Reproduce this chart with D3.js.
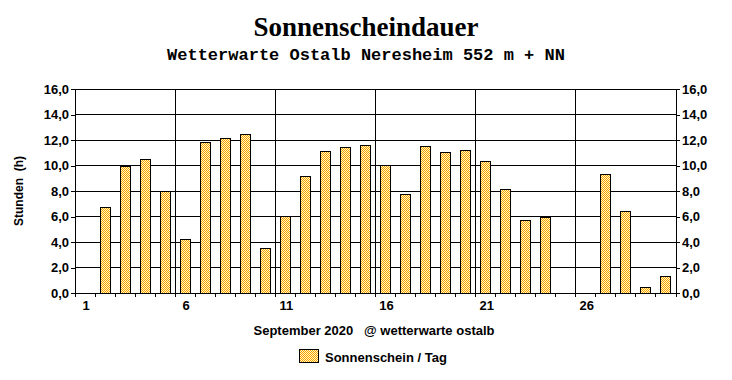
<!DOCTYPE html>
<html>
<head>
<meta charset="utf-8">
<script src="https://cdn.jsdelivr.net/npm/d3@7"></script>
<style>
  body { margin: 0; background: #fff; }
  svg text { font-family: "Liberation Sans", Arial, sans-serif; font-weight: bold; }
</style>
</head>
<body>
<div id="chart"></div>
<script>
// Sonnenscheindauer, September 2020 - hours of sunshine per day
const days = d3.range(1, 31);
const sunHours = [0, 6.7, 9.9, 10.5, 8.0, 4.2, 11.8, 12.1, 12.4, 3.5,
                  6.0, 9.1, 11.1, 11.4, 11.6, 10.0, 7.7, 11.5, 11.0, 11.2,
                  10.3, 8.1, 5.7, 5.9, 0, 0, 9.3, 6.4, 0.4, 1.3];
const yTicks = [0, 2, 4, 6, 8, 10, 12, 14, 16];
const xLabels = [1, 6, 11, 16, 21, 26];

const W = 732, H = 380;
const plotLeft = 75, plotRight = 676, plotTop = 89, plotBottom = 293;

const svg = d3.select("#chart").append("svg")
    .attr("width", W)
    .attr("height", H);

// checkered fill like the original
const defs = svg.append("defs");
const pat = defs.append("pattern")
    .attr("id", "dither")
    .attr("width", 2).attr("height", 2)
    .attr("patternUnits", "userSpaceOnUse");
pat.append("rect").attr("width", 2).attr("height", 2).attr("fill", "#ffffc0");
pat.append("rect").attr("width", 1).attr("height", 1).attr("fill", "#ff9c00");
pat.append("rect").attr("x", 1).attr("y", 1).attr("width", 1).attr("height", 1).attr("fill", "#ff9c00");

const x = d3.scaleBand()
    .domain(days)
    .range([plotLeft, plotRight])
    .paddingInner(0.5)
    .paddingOuter(0.25);

const y = d3.scaleLinear()
    .domain([0, 16])
    .range([plotBottom, plotTop]);

const half = (x.step() - x.bandwidth()) / 2;
function slotStart(d) { return x(d) - half; }

// titles
svg.append("text")
    .attr("x", 366).attr("y", 36)
    .attr("text-anchor", "middle")
    .style("font-family", "'Liberation Serif', 'Times New Roman', serif")
    .style("font-size", "27px")
    .text("Sonnenscheindauer");

svg.append("text")
    .attr("x", 366).attr("y", 60)
    .attr("text-anchor", "middle")
    .style("font-family", "'Liberation Mono', 'Courier New', monospace")
    .style("font-size", "17px")
    .text("Wetterwarte Ostalb Neresheim 552 m + NN");

const grid = svg.append("g")
    .attr("stroke", "#000")
    .attr("stroke-width", 1)
    .attr("shape-rendering", "crispEdges");

// horizontal grid
grid.selectAll(".hg")
    .data(yTicks)
    .join("line")
    .attr("x1", plotLeft).attr("x2", plotRight)
    .attr("y1", d => y(d)).attr("y2", d => y(d));

// vertical grid at the 5-day boundaries
grid.selectAll(".vg")
    .data([6, 11, 16, 21, 26])
    .join("line")
    .attr("x1", d => slotStart(d)).attr("x2", d => slotStart(d))
    .attr("y1", plotTop).attr("y2", plotBottom + 4);

// bars
svg.append("g")
    .selectAll("rect")
    .data(days.map((d, i) => ({ day: d, v: sunHours[i] })).filter(d => d.v > 0))
    .join("rect")
    .attr("x", d => x(d.day))
    .attr("y", d => y(d.v))
    .attr("width", x.bandwidth())
    .attr("height", d => y(0) - y(d.v))
    .attr("fill", "url(#dither)")
    .attr("stroke", "#000")
    .attr("stroke-width", 1)
    .attr("shape-rendering", "crispEdges");

// axes
const fmt = d => d.toFixed(1).replace(".", ",");

const yLeft = svg.append("g")
    .attr("transform", "translate(" + plotLeft + ",0)")
    .call(d3.axisLeft(y).tickValues(yTicks).tickFormat(fmt).tickSize(4).tickPadding(2));

const yRight = svg.append("g")
    .attr("transform", "translate(" + plotRight + ",0)")
    .call(d3.axisRight(y).tickValues(yTicks).tickFormat(fmt).tickSize(4).tickPadding(2));

[yLeft, yRight].forEach(function(g) {
    g.select(".domain").attr("d", "M0," + plotTop + "V" + (plotBottom + 4)).attr("stroke", "#000");
    g.selectAll("line").attr("stroke", "#000");
    g.selectAll("text").style("font-size", "13px").attr("fill", "#000");
    g.attr("shape-rendering", "crispEdges");
});

// bottom axis line with ticks at slot boundaries
svg.append("line")
    .attr("x1", plotLeft).attr("x2", plotRight)
    .attr("y1", plotBottom).attr("y2", plotBottom)
    .attr("stroke", "#000")
    .attr("shape-rendering", "crispEdges");

svg.append("g")
    .selectAll("line")
    .data(days.slice(1))
    .join("line")
    .attr("x1", d => slotStart(d)).attr("x2", d => slotStart(d))
    .attr("y1", plotBottom).attr("y2", plotBottom + 4)
    .attr("stroke", "#000")
    .attr("shape-rendering", "crispEdges");

svg.append("g")
    .selectAll("text")
    .data(xLabels)
    .join("text")
    .attr("x", d => x(d) + x.bandwidth() / 2 + 1)
    .attr("y", 310)
    .attr("text-anchor", "middle")
    .style("font-size", "13px")
    .text(d => d);

// axis titles
svg.append("text")
    .attr("transform", "translate(23,191) rotate(-90)")
    .attr("text-anchor", "middle")
    .style("font-size", "12px")
    .attr("xml:space", "preserve")
    .text("Stunden  (h)");

svg.append("text")
    .attr("x", 374).attr("y", 335)
    .attr("text-anchor", "middle")
    .style("font-size", "13px")
    .attr("xml:space", "preserve")
    .text("September 2020   @ wetterwarte ostalb");

// legend
svg.append("rect")
    .attr("x", 299.5).attr("y", 349.5)
    .attr("width", 19).attr("height", 13)
    .attr("fill", "url(#dither)")
    .attr("stroke", "#000");

svg.append("text")
    .attr("x", 325).attr("y", 362)
    .style("font-size", "13px")
    .text("Sonnenschein / Tag");
</script>
</body>
</html>
